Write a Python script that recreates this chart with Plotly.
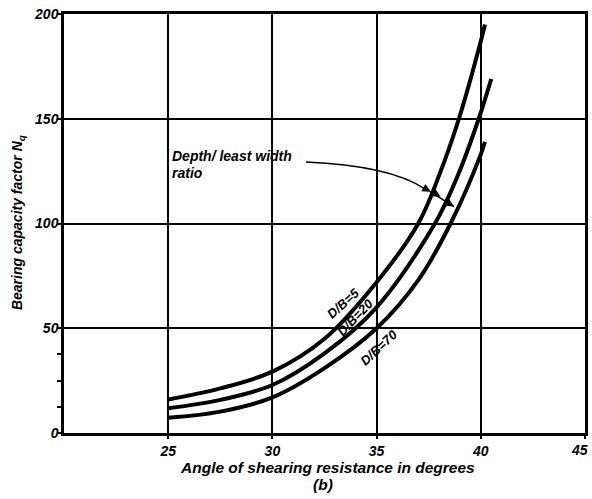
import plotly.graph_objects as go

# Angle of shearing resistance (degrees) and bearing capacity factor Nq
angle_db5 = [25, 27.5, 30, 32.5, 35, 37, 38, 38.95, 40, 40.2]
nq_db5 = [16, 21.3, 29.3, 45, 72, 100, 123, 150, 187, 195]

angle_db20 = [25, 27.5, 30, 32.5, 35, 37.8, 38.9, 39.9, 40.5]
nq_db20 = [11.8, 15.8, 22.9, 38, 60, 100, 123, 150, 169]

angle_db70 = [25, 27.5, 30, 32.5, 35, 37, 38.55, 40, 40.2]
nq_db70 = [7.3, 10.2, 17, 31, 50, 73, 100, 133, 139]

x_ticks = [25, 30, 35, 40, 45]
y_ticks = [0, 50, 100, 150, 200]

FONT = "Liberation Sans"
ML, MR, MT, MB = 64, 7, 14, 66
fig = go.Figure()

for xs, ys, name in [(angle_db5, nq_db5, "D/B=5"),
                     (angle_db20, nq_db20, "D/B=20"),
                     (angle_db70, nq_db70, "D/B=70")]:
    fig.add_trace(go.Scatter(x=xs, y=ys, mode="lines", name=name,
                             line=dict(color="black", width=4, shape="spline", smoothing=1.0),
                             showlegend=False, hoverinfo="skip"))

lab_font = dict(family=FONT, size=13, color="black", weight="bold", style="italic")
fig.add_annotation(x=33.38, y=62.0, text="D/B=5", textangle=-42, showarrow=False, font=lab_font)
fig.add_annotation(x=33.97, y=55.0, text="D/B=20", textangle=-46, showarrow=False, font=lab_font)
fig.add_annotation(x=35.1, y=41.0, text="D/B=70", textangle=-43, showarrow=False, font=lab_font)

ann_font = dict(family=FONT, size=14, color="black", weight="bold", style="italic")
fig.add_annotation(x=25.1, y=132.0, xanchor="left", yanchor="middle", align="left",
                   text="Depth/ least width", showarrow=False, font=ann_font)
fig.add_annotation(x=25.1, y=124.3, xanchor="left", yanchor="middle", align="left",
                   text="ratio", showarrow=False, font=ann_font)

# curved leader line
fig.add_shape(type="path", xref="x", yref="y",
              path="M 31.61,129.3 Q 35.6,127.6 37.3,116.6",
              line=dict(color="black", width=1.5))
fig.add_shape(type="line", xref="x", yref="y", x0=37.55, y0=115.3, x1=38.71, y1=108.1,
              line=dict(color="black", width=1.5))
for (tx, ty, fx, fy) in [(37.59, 115.2, 37.2, 117.4), (38.07, 112.8, 37.75, 114.6), (38.71, 108.1, 38.4, 110.0)]:
    fig.add_annotation(x=tx, y=ty, ax=fx, ay=fy, axref="x", ayref="y", xref="x", yref="y",
                       text="", showarrow=True, arrowhead=2, arrowsize=1.1, arrowwidth=1.5,
                       arrowcolor="black")

tick_font = dict(family=FONT, size=14, color="black", weight="bold", style="italic")
title_font = dict(family=FONT, size=15.5, color="black", weight="bold", style="italic")

# last x tick label drawn as annotation so it stays inside the page edge
fig.add_annotation(x=45, y=0, xref="x", yref="paper", yanchor="top", yshift=-7, xshift=-6,
                   text=str(x_ticks[-1]), showarrow=False, font=tick_font)

# axis titles
fig.add_annotation(x=0.505, y=0, xref="paper", yref="paper", yanchor="middle", yshift=-34,
                   text="Angle of shearing resistance in degrees", showarrow=False, font=title_font)
fig.add_annotation(x=0.497, y=0, xref="paper", yref="paper", yanchor="middle", yshift=-51,
                   text="(b)", showarrow=False, font=title_font)
fig.add_annotation(x=0, y=0.501, xref="paper", yref="paper", xanchor="center", xshift=-46,
                   text="Bearing capacity factor N<sub>q</sub>", textangle=-90, showarrow=False,
                   font=dict(family=FONT, size=14, color="black", weight="bold", style="italic"))

fig.update_xaxes(range=[20, 45], tickvals=x_ticks,
                 ticktext=[str(v) for v in x_ticks[:-1]] + [""],
                 showgrid=True, gridcolor="black", gridwidth=1.5, zeroline=False,
                 showline=True, linecolor="black", linewidth=2.5, mirror=True,
                 ticks="outside", ticklen=3, tickwidth=1.5, tickcolor="black",
                 tickfont=tick_font, automargin=False)
fig.update_yaxes(range=[0, 200], tickvals=y_ticks, ticktext=[str(v) for v in y_ticks],
                 showgrid=True, gridcolor="black", gridwidth=1.5, zeroline=False,
                 showline=True, linecolor="black", linewidth=2.5, mirror=True,
                 ticks="outside", ticklen=4, tickwidth=1.5, tickcolor="black",
                 ticklabelstandoff=-4, ticklabeloverflow="allow",
                 minor=dict(tickvals=[12.5, 25, 37.5], ticks="outside", ticklen=4,
                            tickwidth=1.5, tickcolor="black", showgrid=False),
                 tickfont=tick_font, automargin=False)

fig.update_layout(width=592, height=499, plot_bgcolor="white", paper_bgcolor="white",
                  margin=dict(l=ML, r=MR, t=MT, b=MB, autoexpand=False), showlegend=False)

# remove the default 8px page margin so the figure sits at the window origin
fig.write_html("out.html", config={"displayModeBar": False},
               post_script="document.body.style.margin='0px';")
